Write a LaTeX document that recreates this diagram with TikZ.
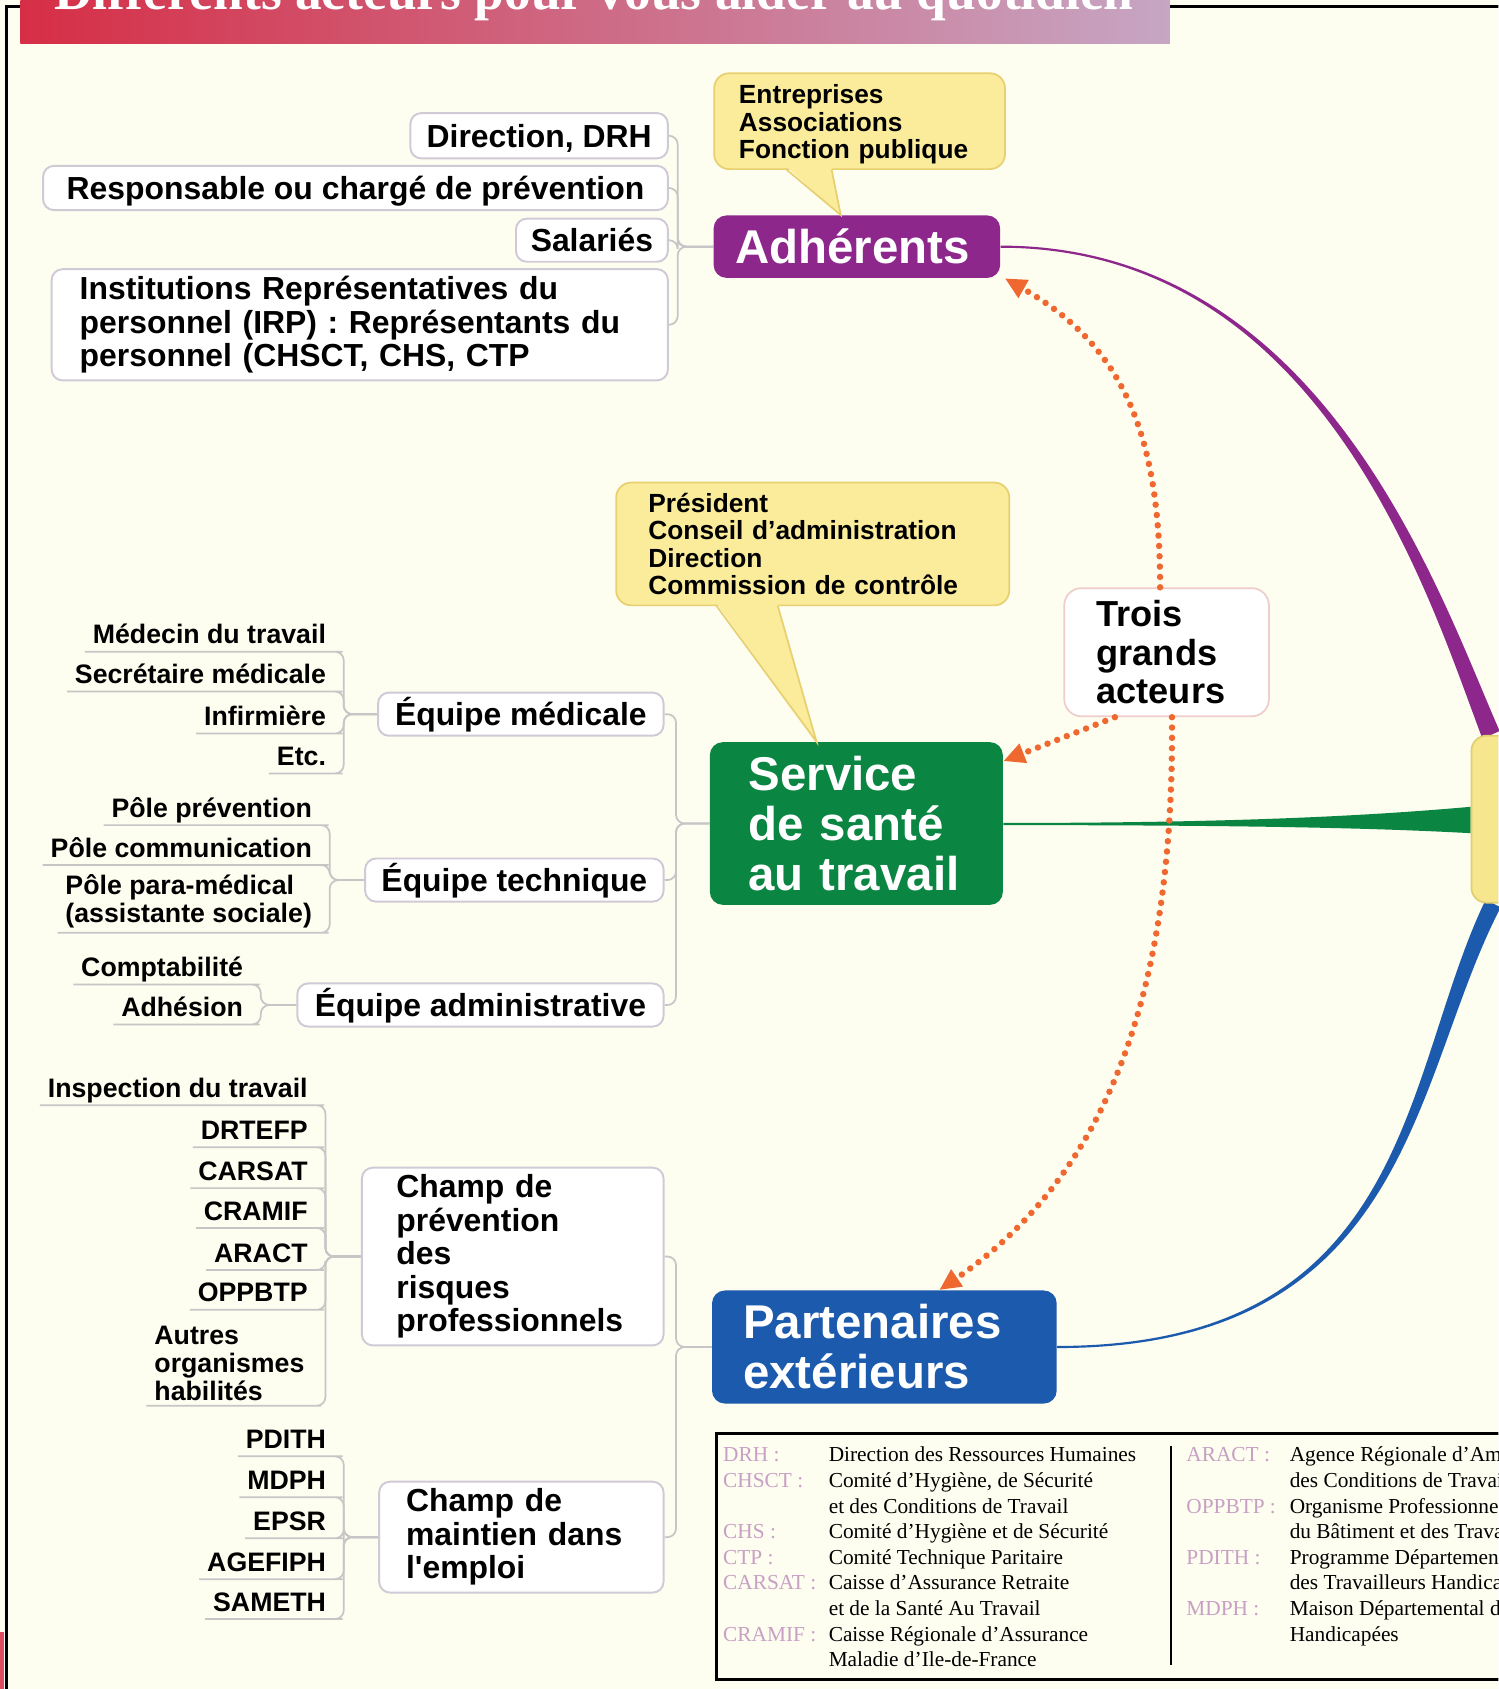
\documentclass[tikz,border=0pt]{standalone}
\usepackage{fontspec}
\setmainfont{Liberation Serif}
\setsansfont{Liberation Sans}
\usetikzlibrary{arrows.meta,calc,positioning}
\pgfdeclarelayer{back}
\pgfsetlayers{back,main}

\definecolor{fond}{RGB}{253,253,240}
\definecolor{titreA}{RGB}{214,46,70}
\definecolor{titreB}{RGB}{198,166,196}
\definecolor{colAdh}{RGB}{142,39,140}
\definecolor{colSvc}{RGB}{10,133,66}
\definecolor{colPart}{RGB}{27,90,172}
\definecolor{jaune}{RGB}{250,236,155}
\definecolor{jauneb}{RGB}{232,208,112}
\definecolor{hubjaune}{RGB}{246,230,142}
\definecolor{hubbord}{RGB}{228,205,110}
\definecolor{pointille}{RGB}{238,104,48}
\definecolor{trait}{RGB}{198,198,198}
\definecolor{bord}{RGB}{208,202,214}
\definecolor{boiterose}{RGB}{240,205,205}
\definecolor{legcle}{RGB}{200,160,196}

\begin{document}
\begin{tikzpicture}[x=0.5pt,y=-0.5pt,
  topic/.style={draw=bord, line width=0.9pt, fill=white, rounded corners=5pt,
    font=\sffamily\bfseries\fontsize{14.8}{15.5}\selectfont, inner xsep=4pt},
  uneligne/.style={text height=#1, text depth=0pt},
  mainbox/.style={rounded corners=6pt, text=white, align=left,
    font=\sffamily\bfseries\fontsize{22}{23.2}\selectfont},
  callbox/.style={draw=jauneb, line width=0.8pt, fill=jaune, rounded corners=7pt, align=left,
    font=\sffamily\bfseries\fontsize{12.2}{12.8}\selectfont, inner ysep=2pt},
  leafbase/.style={font=\sffamily\bfseries\fontsize{12.4}{13}\selectfont, inner xsep=3.5pt},
  leaf/.style={leafbase, inner ysep=3.5pt, text depth=0pt},
  leafm/.style={leafbase, align=left, inner ysep=2pt},
  link/.style={draw=trait, line width=0.8pt, rounded corners=4pt},
  pointe/.style={draw=pointille, line width=3pt, line cap=round, dash pattern=on 0pt off 4.8pt,
    -{Triangle[length=10pt,width=9pt]}},
  legende/.style={anchor=base west, inner sep=0pt, font=\rmfamily\fontsize{9.9}{11.9}\selectfont}]

  \useasboundingbox (0,0) rectangle (1391,1568);
  \begin{pgfonlayer}{back}
    \fill[fond] (0,0) rectangle (1391,1568);
  \end{pgfonlayer}
  \clip (0,0) rectangle (1391,1568);

  % cadre et bandeau
  \draw[line width=1.3pt] (6,1590) -- (6,6) -- (1420,6);
  \fill[titreA!85] (0,1515) rectangle (3.5,1568);
  \shade[left color=titreA, right color=titreB] (19,-10) rectangle (1086,40);
  \node[anchor=base west, inner sep=0pt, text=white, font=\rmfamily\bfseries\fontsize{24.8}{26}\selectfont]
    (titre) at (50,8.5) {Différents acteurs pour vous aider au quotidien};

  % noeud central
  \node[draw=hubbord, line width=0.8pt, fill=hubjaune, rounded corners=7pt,
    minimum width=57pt, minimum height=77.5pt] (hub) at (1423,760.5) {};

  % adherents
  \node[mainbox, uneligne=15.8pt, fill=colAdh, inner xsep=10pt, text width=113pt, minimum height=29pt] (adh) at (795.5,229) {Adhérents};
  \node[callbox, inner xsep=11.5pt, text width=112pt, minimum height=44.5pt] (cEnt) at (798,112.5) {\rule{0pt}{11.8pt}Entreprises\\Associations\\Fonction publique};
  \node[topic, uneligne=10.7pt, minimum width=119.5pt, minimum height=21pt] (dir) at (500.5,126) {Direction, DRH};
  \node[topic, uneligne=10.7pt, minimum width=290pt, minimum height=20.5pt] (resp) at (330,174.5) {Responsable ou chargé de prévention};
  \node[topic, uneligne=10.7pt, minimum width=70.5pt, minimum height=20pt] (sal) at (549.5,223) {Salariés};
  \node[topic, align=left, inner xsep=13pt, text width=260pt, minimum height=50.5pt] (irp) at (334,301.5)
    {Institutions Représentatives du\\personnel (IRP) : Représentants du\\personnel (CHSCT, CHS, CTP};

  % service de sante
  \node[mainbox, fill=colSvc, inner xsep=18pt, text width=100pt, minimum height=75.5pt] (svc) at (795,764.5) {Service\\de santé\\au travail};
  \node[callbox, inner xsep=15pt, text width=152.5pt, minimum height=57pt] (cSvc) at (754.5,505)
    {Président\\Conseil d’administration\\Direction\\Commission de contrôle};
  \node[draw=boiterose, line width=0.8pt, fill=white, rounded corners=8pt, align=left,
    font=\sffamily\bfseries\fontsize{16.8}{17.75}\selectfont, inner xsep=15pt, text width=65pt,
    minimum height=59.5pt] (trois) at (1083,605.5) {Trois\\grands\\acteurs};
  \node[topic, uneligne=10.7pt, minimum width=132.5pt, minimum height=20pt] (eqMed) at (483.5,663) {Équipe médicale};
  \node[topic, uneligne=10.7pt, minimum width=138.5pt, minimum height=20pt] (eqTec) at (477.5,817) {Équipe technique};
  \node[topic, uneligne=10.7pt, minimum width=170pt, minimum height=20pt] (eqAdm) at (446,933) {Équipe administrative};

  \node[leaf, anchor=south east] (lMed) at (310,605) {Médecin du travail};
  \node[leaf, anchor=south east] (lSec) at (310,642) {Secrétaire médicale};
  \node[leaf, anchor=south east] (lInf) at (310,681) {Infirmière};
  \node[leaf, anchor=south east] (lEtc) at (310,718) {Etc.};
  \node[leaf, anchor=south east] (lPrev) at (297,766) {Pôle prévention};
  \node[leaf, anchor=south east] (lCom) at (297,803) {Pôle communication};
  \node[leafm, anchor=south east] (lPara) at (297,866) {Pôle para-médical\\(assistante sociale)};
  \node[leaf, anchor=south east] (lCpt) at (233,914) {Comptabilité};
  \node[leaf, anchor=south east] (lAdh) at (233,951) {Adhésion};

  % partenaires
  \node[mainbox, fill=colPart, inner xsep=14.5pt, text width=131pt, minimum height=52.5pt] (part) at (821,1250.5) {Partenaires\\extérieurs};
  \node[topic, align=left, inner xsep=16pt, text width=108pt, minimum height=81.5pt] (chPrev) at (476,1166.5)
    {Champ de\\prévention\\des\\risques\\professionnels};
  \node[topic, align=left, inner xsep=12.5pt, text width=107pt, minimum height=51pt] (chMain) at (484,1427)
    {Champ de\\maintien dans\\l\textquotesingle emploi};

  \node[leaf, anchor=south east] (lInsp) at (293,1026) {Inspection du travail};
  \node[leaf, anchor=south east] (lDrt) at (293,1065) {DRTEFP};
  \node[leaf, anchor=south east] (lCars) at (293,1103) {CARSAT};
  \node[leaf, anchor=south east] (lCram) at (293,1140) {CRAMIF};
  \node[leaf, anchor=south east] (lAra) at (293,1179) {ARACT};
  \node[leaf, anchor=south east] (lOpp) at (293,1216) {OPPBTP};
  \node[leafm, anchor=south east] (lAut) at (290,1305) {Autres\\organismes\\habilités};
  \node[leaf, anchor=south east] (lPdi) at (310,1352) {PDITH};
  \node[leaf, anchor=south east] (lMdp) at (310,1390) {MDPH};
  \node[leaf, anchor=south east] (lEps) at (310,1428) {EPSR};
  \node[leaf, anchor=south east] (lAge) at (310,1466) {AGEFIPH};
  \node[leaf, anchor=south east] (lSam) at (310,1503) {SAMETH};

  % bulles
  \fill[jaune] ($(cEnt.south)+(-68,-3)$) -- ($(adh.north)+(-15,0)$) -- ($(cEnt.south)+(-26,-3)$) -- cycle;
  \draw[jauneb, line width=0.8pt] ($(cEnt.south)+(-68,-0.5)$) -- ($(adh.north)+(-15,0)$) -- ($(cEnt.south)+(-26,-0.5)$);
  \fill[jaune] ($(cSvc.south)+(-89.5,-3)$) -- ($(svc.north)+(-37,0)$) -- ($(cSvc.south)+(-32.5,-3)$) -- cycle;
  \draw[jauneb, line width=0.8pt] ($(cSvc.south)+(-89.5,-0.5)$) -- ($(svc.north)+(-37,0)$) -- ($(cSvc.south)+(-32.5,-0.5)$);

  \begin{pgfonlayer}{back}
    % branches vers le centre
    \fill[colAdh] ($(adh.east)+(0,-1)$) .. controls +(300,0) and +(-56,-127) .. ($(hub.north west)+(27,-3.5)$)
      -- ($(hub.north west)+(11,3.5)$) .. controls +(-49,-129) and +(300,0) .. ($(adh.east)+(0,1)$) -- cycle;
    \fill[colSvc] ($(svc.east)+(0,-0.5)$) .. controls +(220,0) and +(-90,8) .. ($(hub.west)+(0,-11.5)$)
      -- ($(hub.west)+(0,13)$) .. controls +(-90,-5) and +(220,0) .. ($(svc.east)+(0,1.5)$) -- cycle;
    \fill[colPart] ($(part.east)+(0,-1)$) .. controls +(330,0) and +(-78,161) .. ($(hub.south west)+(14,-3.5)$)
      -- ($(hub.south west)+(28,3.5)$) .. controls +(-83,159) and +(330,0) .. ($(part.east)+(0,1)$) -- cycle;

    \draw[link] (adh.west) -- ++(-33,0) |- (dir.east);
    \draw[link] (adh.west) -- ++(-33,0) |- (resp.east);
    \draw[link] (adh.west) -- ++(-33,0) |- (sal.east);
    \draw[link] (adh.west) -- ++(-33,0) |- (irp.east);

    \draw[link] (svc.west) -- ++(-31,0) |- (eqMed.east);
    \draw[link] (svc.west) -- ++(-31,0) |- (eqTec.east);
    \draw[link] (svc.west) -- ++(-31,0) |- (eqAdm.east);
    \draw[link] (eqMed.west) -- ++(-31,0) |- (lMed.south east) -- (lMed.south west);
    \draw[link] (eqMed.west) -- ++(-31,0) |- (lSec.south east) -- (lSec.south west);
    \draw[link] (eqMed.west) -- ++(-31,0) |- (lInf.south east) -- (lInf.south west);
    \draw[link] (eqMed.west) -- ++(-31,0) |- (lEtc.south east) -- (lEtc.south west);
    \draw[link] (eqTec.west) -- ++(-32,0) |- (lPrev.south east) -- (lPrev.south west);
    \draw[link] (eqTec.west) -- ++(-32,0) |- (lCom.south east) -- (lCom.south west);
    \draw[link] (eqTec.west) -- ++(-32,0) |- (lPara.south east) -- (lPara.south west);
    \draw[link] (eqAdm.west) -- ++(-33,0) |- (lCpt.south east) -- (lCpt.south west);
    \draw[link] (eqAdm.west) -- ++(-33,0) |- (lAdh.south east) -- (lAdh.south west);

    \draw[link] (part.west) -- ++(-33,0) |- (chPrev.east);
    \draw[link] (part.west) -- ++(-33,0) |- (chMain.east);
    \draw[link] (chPrev.west) -- ++(-33,0) |- (lInsp.south east) -- (lInsp.south west);
    \draw[link] (chPrev.west) -- ++(-33,0) |- (lDrt.south east) -- (lDrt.south west);
    \draw[link] (chPrev.west) -- ++(-33,0) |- (lCars.south east) -- (lCars.south west);
    \draw[link] (chPrev.west) -- ++(-33,0) |- (lCram.south east) -- (lCram.south west);
    \draw[link] (chPrev.west) -- ++(-33,0) |- (lAra.south east) -- (lAra.south west);
    \draw[link] (chPrev.west) -- ++(-33,0) |- (lOpp.south east) -- (lOpp.south west);
    \draw[link] (chPrev.west) -- ++(-33,0) |- (lAut.south east) -- (lAut.south west);
    \draw[link] (chMain.west) -- ++(-32,0) |- (lPdi.south east) -- (lPdi.south west);
    \draw[link] (chMain.west) -- ++(-32,0) |- (lMdp.south east) -- (lMdp.south west);
    \draw[link] (chMain.west) -- ++(-32,0) |- (lEps.south east) -- (lEps.south west);
    \draw[link] (chMain.west) -- ++(-32,0) |- (lAge.south east) -- (lAge.south west);
    \draw[link] (chMain.west) -- ++(-32,0) |- (lSam.south east) -- (lSam.south west);
  \end{pgfonlayer}

  % fleches pointillees
  \draw[pointe] ([xshift=-3pt]trois.north) .. controls +(0,-150) and +(105,60) .. ([xshift=2pt]adh.south east);
  \draw[pointe] ([xshift=-24pt]trois.south) -- ([yshift=-9pt]svc.north east);
  \draw[pointe] ([xshift=2.5pt]trois.south) .. controls +(2,232) and +(168,-115) .. ([xshift=25.5pt]part.north);

  % legende
  \draw[line width=1.25pt] (665,1331) rectangle (1430,1559);
  \draw[line width=0.6pt] (1087,1342) -- (1087,1546);
  \node[legende] (legG) at (671,1357) {\begin{tabular}[t]{@{}p{49pt}@{}l@{}}
    \textcolor{legcle}{DRH :} & Direction des Ressources Humaines\\
    \textcolor{legcle}{CHSCT :} & Comité d’Hygiène, de Sécurité\\
     & et des Conditions de Travail\\
    \textcolor{legcle}{CHS :} & Comité d’Hygiène et de Sécurité\\
    \textcolor{legcle}{CTP :} & Comité Technique Paritaire\\
    \textcolor{legcle}{CARSAT :} & Caisse d’Assurance Retraite\\
     & et de la Santé Au Travail\\
    \textcolor{legcle}{CRAMIF :} & Caisse Régionale d’Assurance\\
     & Maladie d’Ile-de-France
  \end{tabular}};
  \node[legende] (legD) at (1101,1357) {\begin{tabular}[t]{@{}p{48pt}@{}l@{}}
    \textcolor{legcle}{ARACT :} & Agence Régionale d’Amélioration\\
     & des Conditions de Travail\\
    \textcolor{legcle}{OPPBTP :} & Organisme Professionnel de Prévention\\
     & du Bâtiment et des Travaux Publics\\
    \textcolor{legcle}{PDITH :} & Programme Départemental d’Insertion\\
     & des Travailleurs Handicapés\\
    \textcolor{legcle}{MDPH :} & Maison Départemental des Personnes\\
     & Handicapées
  \end{tabular}};

\end{tikzpicture}
\end{document}
